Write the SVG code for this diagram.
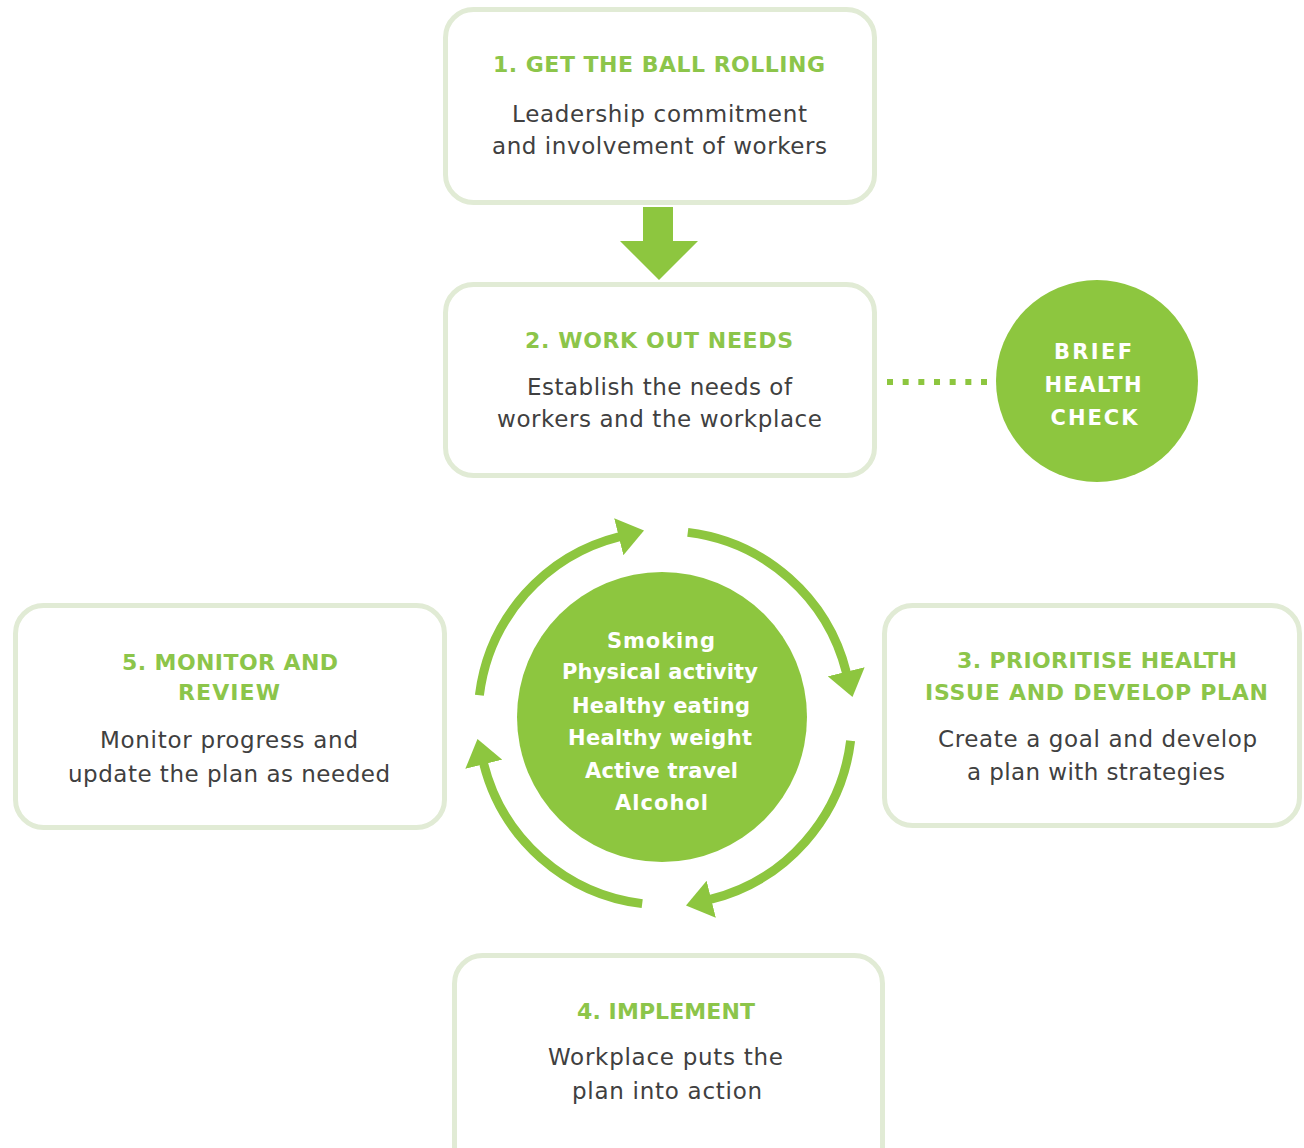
<svg xmlns="http://www.w3.org/2000/svg" width="1304" height="1148" viewBox="0 0 1304 1148">
<style>
.box{fill:#ffffff;stroke:#e1ebd5;stroke-width:5}
.title{font-family:"DejaVu Sans","Liberation Sans",sans-serif;font-weight:bold;font-size:22px;fill:#8cc54a;text-anchor:middle}
.body{font-family:"DejaVu Sans","Liberation Sans",sans-serif;font-size:23px;fill:#404040;text-anchor:middle}
.white{font-family:"DejaVu Sans","Liberation Sans",sans-serif;font-weight:bold;font-size:21px;fill:#ffffff;text-anchor:middle}
.ring{fill:none;stroke:#8dc63f;stroke-width:9;marker-end:url(#head)}
</style>
<defs>
<marker id="head" markerUnits="userSpaceOnUse" viewBox="0 0 26 38" markerWidth="26" markerHeight="38" refX="1" refY="19" orient="auto">
<path d="M0,0 L26,19 L0,38 Z" fill="#8dc63f"/>
</marker>
</defs>
<rect width="1304" height="1148" fill="#ffffff"/>

<g id="connectors">
<polygon points="643,207 673,207 673,241 698,241 659,280 620,241 643,241" fill="#8dc63f"/>
<line x1="887" y1="382" x2="987" y2="382" stroke="#8dc63f" stroke-width="6" stroke-dasharray="6 9.67"/>
<path class="ring" d="M479.39,695.21 A187,187 0 0 1 619.76,536.55"/>
<path class="ring" d="M687.79,532.39 A187,187 0 0 1 846.45,672.76"/>
<path class="ring" d="M850.61,740.79 A187,187 0 0 1 710.24,899.45"/>
<path class="ring" d="M642.21,903.61 A187,187 0 0 1 483.55,763.24"/>
</g>

<g id="step1">
<rect class="box" x="445.5" y="9.5" width="429" height="193" rx="28"/>
<text class="title" x="659" y="72" textLength="332" lengthAdjust="spacing">1. GET THE BALL ROLLING</text>
<text class="body" x="659.5" y="122" textLength="295" lengthAdjust="spacing">Leadership commitment</text>
<text class="body" x="659.5" y="154" textLength="335" lengthAdjust="spacing">and involvement of workers</text>
</g>

<g id="step2">
<rect class="box" x="445.5" y="284.5" width="429" height="191" rx="28"/>
<text class="title" x="659" y="348" textLength="268" lengthAdjust="spacing">2. WORK OUT NEEDS</text>
<text class="body" x="659.5" y="395" textLength="265" lengthAdjust="spacing">Establish the needs of</text>
<text class="body" x="659.5" y="427" textLength="325" lengthAdjust="spacing">workers and the workplace</text>
</g>

<g id="brief-health-check">
<circle cx="1097" cy="381" r="101" fill="#8dc63f"/>
<text class="white" x="1093" y="359" textLength="78" lengthAdjust="spacing">BRIEF</text>
<text class="white" x="1093" y="392" textLength="97" lengthAdjust="spacing">HEALTH</text>
<text class="white" x="1094" y="425" textLength="87" lengthAdjust="spacing">CHECK</text>
</g>

<g id="step3">
<rect class="box" x="884.5" y="605.5" width="415" height="220" rx="28"/>
<text class="title" x="1097" y="668" textLength="280" lengthAdjust="spacing">3. PRIORITISE HEALTH</text>
<text class="title" x="1096.5" y="700" textLength="343" lengthAdjust="spacing">ISSUE AND DEVELOP PLAN</text>
<text class="body" x="1097.5" y="747" textLength="319" lengthAdjust="spacing">Create a goal and develop</text>
<text class="body" x="1096" y="780" textLength="258" lengthAdjust="spacing">a plan with strategies</text>
</g>

<g id="step4">
<rect class="box" x="454.5" y="955.5" width="428" height="220" rx="28"/>
<text class="title" x="666" y="1019" textLength="178" lengthAdjust="spacing">4. IMPLEMENT</text>
<text class="body" x="665.5" y="1065" textLength="235" lengthAdjust="spacing">Workplace puts the</text>
<text class="body" x="667" y="1099" textLength="190" lengthAdjust="spacing">plan into action</text>
</g>

<g id="step5">
<rect class="box" x="15.5" y="605.5" width="429" height="222" rx="28"/>
<text class="title" x="230" y="670" textLength="216" lengthAdjust="spacing">5. MONITOR AND</text>
<text class="title" x="229" y="700" textLength="102" lengthAdjust="spacing">REVIEW</text>
<text class="body" x="229" y="748" textLength="258" lengthAdjust="spacing">Monitor progress and</text>
<text class="body" x="229" y="782" textLength="322" lengthAdjust="spacing">update the plan as needed</text>
</g>

<g id="health-topics">
<circle cx="662" cy="717" r="145" fill="#8dc63f"/>
<text class="white" x="661" y="648" textLength="108" lengthAdjust="spacing">Smoking</text>
<text class="white" x="660" y="679" textLength="196" lengthAdjust="spacing">Physical activity</text>
<text class="white" x="661" y="713" textLength="178" lengthAdjust="spacing">Healthy eating</text>
<text class="white" x="660" y="745" textLength="184" lengthAdjust="spacing">Healthy weight</text>
<text class="white" x="661.5" y="778" textLength="153" lengthAdjust="spacing">Active travel</text>
<text class="white" x="661.5" y="810" textLength="93" lengthAdjust="spacing">Alcohol</text>
</g>
</svg>
